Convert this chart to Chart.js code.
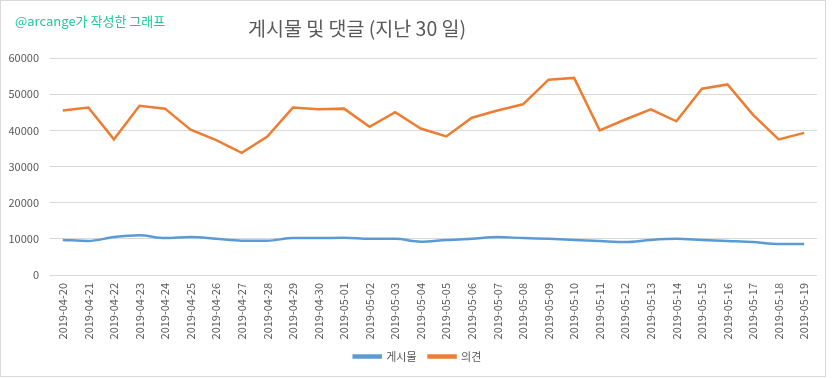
<!DOCTYPE html>
<html>
<head>
<meta charset="utf-8">
<script src="https://cdn.jsdelivr.net/npm/chart.js@4.4.1/dist/chart.umd.min.js"></script>
<style>
  html, body { margin: 0; padding: 0; background: #ffffff; }
  #wrap { position: relative; width: 832px; height: 378px; }
  #frame { position: absolute; left: 0; top: 0; width: 824px; height: 375px; border: 1px solid #d9d9d9; }
  #sub { position: absolute; left: 15px; top: 11px; font: 13px "Noto Sans CJK KR", "Open Sans", sans-serif; color: #1bc99a; white-space: nowrap; }
  #title { position: absolute; left: 248px; top: 13px; font: 19.5px "Noto Sans CJK KR", "Open Sans", sans-serif; color: #595959; white-space: nowrap; }
  canvas { position: absolute; left: 0; top: 0; }
</style>
</head>
<body>
<div id="wrap">
  <div id="frame"></div>
  <canvas id="c" width="832" height="378"></canvas>
  <div id="sub">@arcange가 작성한 그래프</div>
  <div id="title">게시물 및 댓글 (지난 30 일)</div>
</div>
<script>
const dates = [
  "2019-04-20","2019-04-21","2019-04-22","2019-04-23","2019-04-24","2019-04-25",
  "2019-04-26","2019-04-27","2019-04-28","2019-04-29","2019-04-30","2019-05-01",
  "2019-05-02","2019-05-03","2019-05-04","2019-05-05","2019-05-06","2019-05-07",
  "2019-05-08","2019-05-09","2019-05-10","2019-05-11","2019-05-12","2019-05-13",
  "2019-05-14","2019-05-15","2019-05-16","2019-05-17","2019-05-18","2019-05-19"
];
const posts = [
  9700, 9400, 10500, 11000, 10200, 10500, 10000, 9500, 9500, 10200,
  10200, 10300, 10000, 10000, 9200, 9700, 10000, 10500, 10200, 10000,
  9700, 9400, 9100, 9700, 10000, 9700, 9400, 9100, 8600, 8600
];
const comments = [
  45500, 46300, 37500, 46800, 46000, 40200, 37300, 33800, 38300, 46300,
  45800, 46000, 41000, 45000, 40500, 38300, 43500, 45500, 47200, 54000,
  54500, 40000, 43000, 45800, 42500, 51500, 52700, 44300, 37500, 39300
];
const yTicks = [0, 10000, 20000, 30000, 40000, 50000, 60000];
const seriesNames = ["게시물", "의견"];

const FONT = "'Noto Sans CJK KR', 'Open Sans', sans-serif";
const GRAY = "#595959";

const legendShift = {
  id: "legendShift",
  afterLayout(chart) {
    if (chart.legend) { chart.legend.left += 9; chart.legend.right += 9; }
  }
};

new Chart(document.getElementById("c"), {
  type: "line",
  data: {
    labels: dates,
    datasets: [
      { label: seriesNames[0], data: posts, borderColor: "#5b9bd5", backgroundColor: "#5b9bd5",
        borderWidth: 2.5, pointRadius: 0, tension: 0.3, cubicInterpolationMode: "monotone" },
      { label: seriesNames[1], data: comments, borderColor: "#ed7d31", backgroundColor: "#ed7d31",
        borderWidth: 2.5, pointRadius: 0, tension: 0 }
    ]
  },
  plugins: [legendShift],
  options: {
    responsive: false,
    animation: false,
    layout: { padding: { left: 0, right: 15, top: 58, bottom: 6 } },
    plugins: {
      legend: {
        position: "bottom",
        labels: { boxWidth: 27, boxHeight: 2, padding: 12, color: GRAY, font: { family: FONT, size: 11 } }
      },
      tooltip: { enabled: false },
      title: { display: false }
    },
    scales: {
      x: {
        offset: true,
        grid: { display: false, drawTicks: false },
        border: { display: false },
        ticks: { color: GRAY, font: { family: FONT, size: 11 }, maxRotation: 90, minRotation: 90, autoSkip: false, padding: 8 },
        afterFit: (s) => { s.height = 64; }
      },
      y: {
        min: 0, max: 60000,
        afterBuildTicks: (s) => { s.ticks = yTicks.map(v => ({ value: v })); },
        grid: { color: "#d9d9d9", lineWidth: 1, drawTicks: false },
        border: { display: false },
        ticks: { color: GRAY, font: { family: FONT, size: 11 }, padding: 11, callback: (v) => String(v) },
        afterFit: (s) => { s.width = 50; }
      }
    }
  }
});
</script>
</body>
</html>
